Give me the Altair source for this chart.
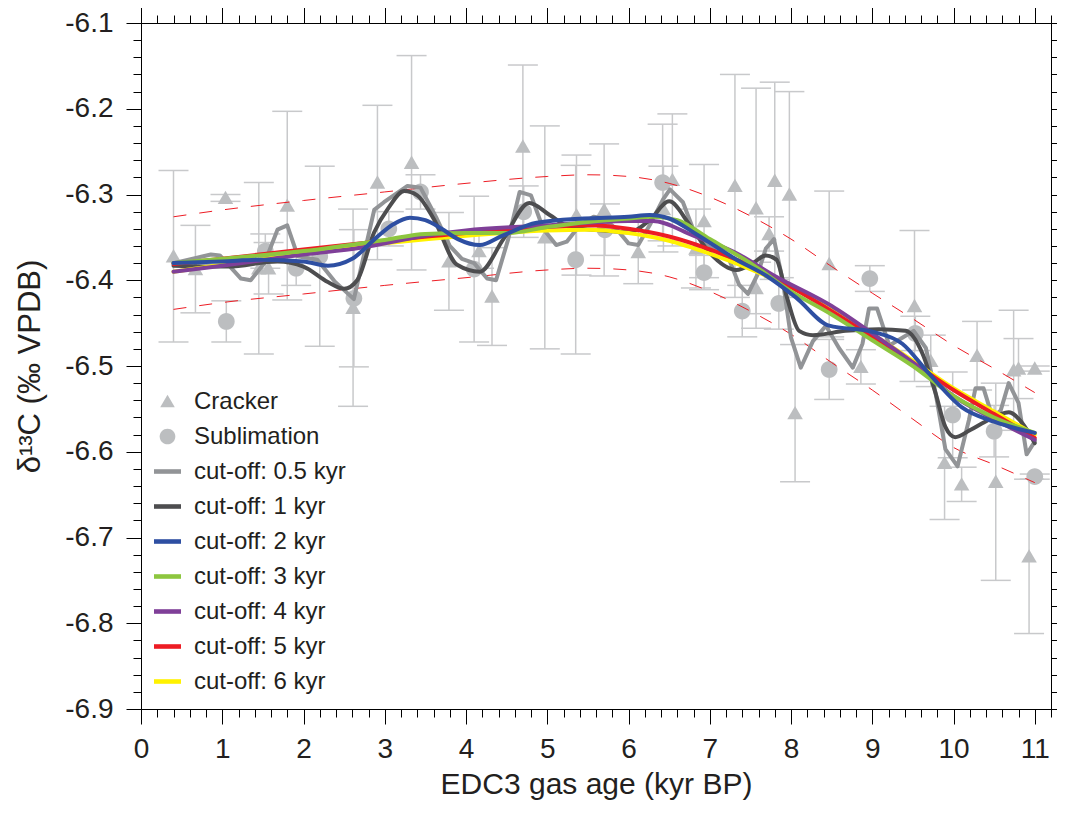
import altair as alt
import pandas as pd

# ---------------- data ----------------
cr_x = [0.40, 0.67, 1.04, 1.45, 1.57, 1.80, 2.61, 2.91, 3.33, 3.79, 4.16, 4.32, 4.70, 4.97,
        5.36, 5.70, 6.12, 6.43, 6.54, 6.83, 6.93, 7.31, 7.57, 7.57, 7.73, 7.80, 7.98, 8.05,
        8.47, 8.86, 9.52, 9.72, 9.89, 10.10, 10.29, 10.52, 10.74, 10.80, 10.93, 11.00]
cr_y = [-6.372, -6.387, -6.304, -6.386, -6.386, -6.313, -6.432, -6.286, -6.263, -6.378, -6.366,
        -6.419, -6.244, -6.350, -6.324, -6.318, -6.367, -6.317, -6.283, -6.363, -6.331, -6.290,
        -6.316, -6.409, -6.346, -6.284, -6.300, -6.555, -6.381, -6.501, -6.430, -6.494, -6.613,
        -6.638, -6.488, -6.635, -6.505, -6.503, -6.722, -6.503]
cr_e = [0.100, 0.051, 0.004, 0.100, 0.030, 0.110, 0.115, 0.090, 0.125, 0.057, 0.020, 0.057,
        0.095, 0.130, 0.070, 0.077, 0.037, 0.050, 0.077, 0.046, 0.066, 0.130, 0.140, 0.030,
        0.020, 0.115, 0.120, 0.080, 0.085, 0.020, 0.088, 0.030, 0.066, 0.020, 0.040, 0.115,
        0.070, 0.035, 0.090, 0.003]

sb_x = [1.05, 1.53, 1.91, 2.20, 2.62, 3.05, 3.44, 4.10, 4.71, 5.35, 5.71, 6.42, 6.93, 7.40,
        7.85, 8.47, 8.97, 9.53, 9.99, 10.50, 11.00]
sb_y = [-6.448, -6.366, -6.386, -6.372, -6.421, -6.340, -6.297, -6.387, -6.320, -6.376, -6.341,
        -6.286, -6.391, -6.436, -6.427, -6.504, -6.398, -6.462, -6.557, -6.576, -6.629]
sb_e = [0.024, 0.020, 0.020, 0.105, 0.080, 0.020, 0.020, 0.085, 0.030, 0.110, 0.030, 0.068,
        0.020, 0.030, 0.030, 0.035, 0.015, 0.020, 0.050, 0.030, 0.003]

s05_x = [0.4, 0.86, 0.97, 1.23, 1.35, 1.52, 1.68, 1.8, 1.93, 2.17, 2.38, 2.62, 2.87, 2.99, 3.28,
         3.44, 3.64, 3.8, 3.95, 4.1, 4.26, 4.37, 4.52, 4.66, 4.8, 4.95, 5.11, 5.24, 5.4, 5.57,
         5.69, 5.85, 6.0, 6.12, 6.26, 6.43, 6.51, 6.67, 6.81, 6.96, 7.24, 7.36, 7.47, 7.59, 7.69,
         7.79, 7.9, 8.0, 8.12, 8.27, 8.43, 8.59, 8.76, 8.88, 8.96, 9.06, 9.21, 9.37, 9.51, 9.66,
         9.78, 9.9, 10.05, 10.19, 10.27, 10.37, 10.48, 10.58, 10.68, 10.8, 10.9, 11.0]
s05_y = [-6.38, -6.37, -6.371, -6.398, -6.4, -6.38, -6.341, -6.336, -6.372, -6.376, -6.401,
         -6.422, -6.318, -6.309, -6.29, -6.292, -6.328, -6.36, -6.375, -6.38, -6.398, -6.40,
         -6.352, -6.297, -6.301, -6.34, -6.359, -6.355, -6.336, -6.326, -6.328, -6.34, -6.357,
         -6.359, -6.336, -6.305, -6.294, -6.309, -6.344, -6.359, -6.376, -6.405, -6.416, -6.393,
         -6.363, -6.352, -6.401, -6.467, -6.502, -6.471, -6.453, -6.479, -6.502, -6.474, -6.433,
         -6.433, -6.476, -6.467, -6.459, -6.479, -6.532, -6.597, -6.617, -6.563, -6.526, -6.526,
         -6.56, -6.552, -6.52, -6.543, -6.603, -6.588]

s1_x = [0.4, 1.07, 1.68, 2.0, 2.3, 2.5, 2.66, 2.87, 3.05, 3.24, 3.4, 3.6, 3.89, 4.17, 4.46,
        4.78, 5.03, 5.28, 5.69, 6.01, 6.26, 6.5, 6.75, 6.99, 7.33, 7.53, 7.69, 7.82, 7.95, 8.1,
        8.27, 8.67, 9.08, 9.41, 9.62, 9.78, 9.9, 10.02, 10.2, 10.39, 10.68, 10.85, 11.0]
s1_y = [-6.383, -6.384, -6.378, -6.384, -6.402, -6.41, -6.40, -6.344, -6.315, -6.296, -6.301,
        -6.328, -6.382, -6.39, -6.352, -6.31, -6.324, -6.338, -6.342, -6.344, -6.33, -6.308,
        -6.335, -6.367, -6.388, -6.38, -6.371, -6.376, -6.42, -6.459, -6.464, -6.459, -6.457,
        -6.459, -6.486, -6.532, -6.571, -6.583, -6.575, -6.565, -6.554, -6.567, -6.59]

s2_x = [0.4, 1.0, 1.5, 2.0, 2.3, 2.6, 2.9, 3.1, 3.31, 3.5, 3.7, 3.9, 4.17, 4.45, 4.87, 5.45,
        6.0, 6.26, 6.5, 6.83, 7.33, 7.7, 8.06, 8.47, 9.0, 9.37, 9.7, 10.1, 10.5, 11.0]
s2_y = [-6.38, -6.378, -6.376, -6.378, -6.383, -6.375, -6.35, -6.335, -6.327, -6.33, -6.34,
        -6.352, -6.359, -6.348, -6.333, -6.328, -6.326, -6.324, -6.328, -6.346, -6.376, -6.395,
        -6.42, -6.453, -6.46, -6.474, -6.509, -6.548, -6.565, -6.578]

s3_x = [0.4, 1, 2, 3, 3.5, 4, 4.5, 5, 5.5, 6, 6.3, 6.6, 7, 7.5, 8, 8.5, 9, 9.5, 10, 10.5, 11]
s3_y = [-6.38, -6.375, -6.366, -6.353, -6.346, -6.345, -6.345, -6.338, -6.332, -6.328, -6.326,
        -6.33, -6.352, -6.38, -6.413, -6.44, -6.47, -6.50, -6.535, -6.56, -6.578]

s4_x = [0.4, 1, 2, 2.7, 3.5, 4, 5, 5.5, 6, 6.3, 6.8, 7.3, 7.8, 8.5, 9, 9.5, 10, 10.5, 11]
s4_y = [-6.39, -6.383, -6.37, -6.362, -6.348, -6.342, -6.336, -6.333, -6.331, -6.331, -6.348,
        -6.367, -6.395, -6.43, -6.462, -6.496, -6.535, -6.562, -6.586]

s5_x = [0.4, 1, 2, 3, 4, 5, 5.5, 6, 6.5, 7, 7.5, 8, 8.5, 9, 9.5, 10, 10.5, 11]
s5_y = [-6.381, -6.375, -6.364, -6.354, -6.345, -6.338, -6.336, -6.34, -6.349, -6.364, -6.383,
        -6.408, -6.436, -6.466, -6.496, -6.528, -6.556, -6.584]

s6_x = [0.4, 1, 2, 3, 4, 5, 5.5, 6, 6.5, 7, 7.5, 8, 8.5, 9, 9.5, 10, 10.5, 11]
s6_y = [-6.39, -6.382, -6.369, -6.357, -6.348, -6.342, -6.341, -6.345, -6.354, -6.369, -6.387,
        -6.408, -6.434, -6.463, -6.494, -6.526, -6.553, -6.58]

env_x = [0.4, 1, 2, 3, 4, 5, 5.5, 6, 6.5, 7, 7.5, 8, 8.5, 9, 9.5, 10, 10.5, 11]
env_up = [-6.326, -6.318, -6.307, -6.297, -6.287, -6.279, -6.277, -6.279, -6.287, -6.303,
          -6.325, -6.352, -6.384, -6.415, -6.445, -6.476, -6.503, -6.531]
env_lo = [-6.434, -6.426, -6.416, -6.406, -6.397, -6.388, -6.386, -6.388, -6.396, -6.413,
          -6.436, -6.463, -6.496, -6.528, -6.562, -6.595, -6.615, -6.636]

labels = ["Cracker", "Sublimation", "cut-off: 0.5 kyr", "cut-off: 1 kyr", "cut-off: 2 kyr",
          "cut-off: 3 kyr", "cut-off: 4 kyr", "cut-off: 5 kyr", "cut-off: 6 kyr"]
colors = ["#bcbec0", "#bcbec0", "#929497", "#4d4d4f", "#2e4fa2", "#8dc63f", "#7f3f98",
          "#ed1c24", "#fff200"]

x_ticks = [round(i * 0.2, 1) for i in range(57)]
y_ticks = [round(-6.9 + i * 0.02, 2) for i in range(41)]

# ---------------- build tables ----------------
TRI = "M0,-0.5L0.54,0.43L-0.54,0.43Z"
CIRC = "M-0.58,0A0.58,0.58,0,1,0,0.58,0A0.58,0.58,0,1,0,-0.58,0Z"
BAR = "M-1,-0.17L1,-0.17L1,0.17L-1,0.17Z"
shapes = [TRI, CIRC] + [BAR] * 7

pts = pd.concat([
    pd.DataFrame({"x": cr_x, "y": cr_y, "e": cr_e, "series": labels[0]}),
    pd.DataFrame({"x": sb_x, "y": sb_y, "e": sb_e, "series": labels[1]}),
], ignore_index=True)
pts["lo"] = pts["y"] - pts["e"]
pts["hi"] = pts["y"] + pts["e"]

env = pd.concat([
    pd.DataFrame({"x": env_x, "y": env_up, "side": "up"}),
    pd.DataFrame({"x": env_x, "y": env_lo, "side": "lo"}),
], ignore_index=True)

series_xy = {
    labels[2]: (s05_x, s05_y), labels[3]: (s1_x, s1_y), labels[4]: (s2_x, s2_y),
    labels[5]: (s3_x, s3_y), labels[6]: (s4_x, s4_y), labels[7]: (s5_x, s5_y),
    labels[8]: (s6_x, s6_y),
}

# ---------------- scales and axes ----------------
FONT = "Liberation Sans"
xs = alt.Scale(domain=[0, 11.2], nice=False, zero=False)
ys = alt.Scale(domain=[-6.9, -6.1], nice=False, zero=False)
cs = alt.Scale(domain=labels, range=colors)
ss = alt.Scale(domain=labels, range=shapes)

x_major = "abs(datum.value - round(datum.value)) < 0.001"
y_major = "abs(datum.value * 10 - round(datum.value * 10)) < 0.001"

ax_bottom = alt.Axis(
    orient="bottom", values=x_ticks, title="EDC3 gas age (kyr BP)",
    labelExpr=f"{x_major} ? format(datum.value, 'd') : ''",
    tickSize={"condition": {"test": x_major, "value": 15}, "value": 8},
    labelFontSize=28, titleFontSize=30, labelPadding=11, titlePadding=6,
    labelOverlap=False, labelFlush=False, labelBound=False, grid=False,
)
ax_top = alt.Axis(
    orient="top", values=x_ticks, title=None, labels=False,
    tickSize={"condition": {"test": x_major, "value": 16}, "value": 8}, grid=False,
)
ax_left = alt.Axis(
    orient="left", values=y_ticks, title="δ¹³C (‰ VPDB)",
    labelExpr=f"{y_major} ? '-' + format(abs(datum.value), '.1f') : ''",
    tickSize={"condition": {"test": y_major, "value": 15}, "value": 8},
    labelFontSize=28, titleFontSize=31, labelPadding=13, titlePadding=18,
    labelOverlap=False, labelFlush=False, labelBound=False, grid=False,
)
ax_right = alt.Axis(
    orient="right", values=y_ticks, title=None, labels=False,
    tickSize={"condition": {"test": y_major, "value": 15}, "value": 8}, grid=False,
)

legend = alt.Legend(
    title=None, orient="none", legendX=13, legendY=365, labelFontSize=24, labelFont=FONT,
    labelColor="#231f20", symbolSize=729, symbolStrokeWidth=0, symbolOpacity=1,
    labelOffset=13, rowPadding=9, padding=0, labelLimit=400,
)

ERR = "#c8c9cb"
layers = []

layers.append(
    alt.Chart(pts).mark_rule(color=ERR, strokeWidth=1.5).encode(
        x=alt.X("x:Q", scale=xs, axis=ax_bottom),
        y=alt.Y("lo:Q", scale=ys, axis=ax_left),
        y2="hi:Q",
    )
)
layers.append(
    alt.Chart(pts).mark_tick(orient="horizontal", size=30, thickness=1.5, color=ERR, opacity=1).encode(
        x=alt.X("x:Q", scale=xs, axis=ax_top),
        y=alt.Y("lo:Q", scale=ys, axis=ax_right),
    )
)
layers.append(
    alt.Chart(pts).mark_tick(orient="horizontal", size=30, thickness=1.5, color=ERR, opacity=1).encode(
        x=alt.X("x:Q", scale=xs, axis=None),
        y=alt.Y("hi:Q", scale=ys, axis=None),
    )
)
layers.append(
    alt.Chart(pts).mark_point(filled=True, opacity=1, size=830, strokeWidth=0).encode(
        x=alt.X("x:Q", scale=xs, axis=None),
        y=alt.Y("y:Q", scale=ys, axis=None),
        color=alt.Color("series:N", scale=cs, legend=legend),
        shape=alt.Shape("series:N", scale=ss, legend=legend),
    )
)
layers.append(
    alt.Chart(env).mark_line(color="#ed1c24", strokeWidth=1, strokeDash=[13, 13],
                             interpolate="monotone").encode(
        x=alt.X("x:Q", scale=xs, axis=None),
        y=alt.Y("y:Q", scale=ys, axis=None),
        detail="side:N",
    )
)

draw_order = [labels[2], labels[3], labels[8], labels[7], labels[6], labels[5], labels[4]]
for name in draw_order:
    sx, sy = series_xy[name]
    df = pd.DataFrame({"x": sx, "y": sy, "series": name})
    interp = "linear" if name == labels[2] else "monotone"
    layers.append(
        alt.Chart(df).mark_line(strokeWidth=4, interpolate=interp, strokeJoin="round",
                                strokeCap="round").encode(
            x=alt.X("x:Q", scale=xs, axis=None),
            y=alt.Y("y:Q", scale=ys, axis=None),
            color=alt.Color("series:N", scale=cs, legend=None),
        )
    )

chart = alt.layer(*layers).resolve_axis(x="independent", y="independent").properties(
    width=910, height=686,
    autosize=alt.AutoSizeParams(type="none"),
    padding={"left": 133, "top": 15, "right": 6, "bottom": 97},
    background="white",
).configure_view(stroke="black", strokeWidth=1).configure_axis(
    domainColor="black", domainWidth=1, tickColor="black", tickWidth=1,
    labelColor="#231f20", titleColor="#231f20", labelFont=FONT, titleFont=FONT,
    titleFontWeight="normal",
)

chart.save("out.html", embed_options={"renderer": "svg", "actions": False})
